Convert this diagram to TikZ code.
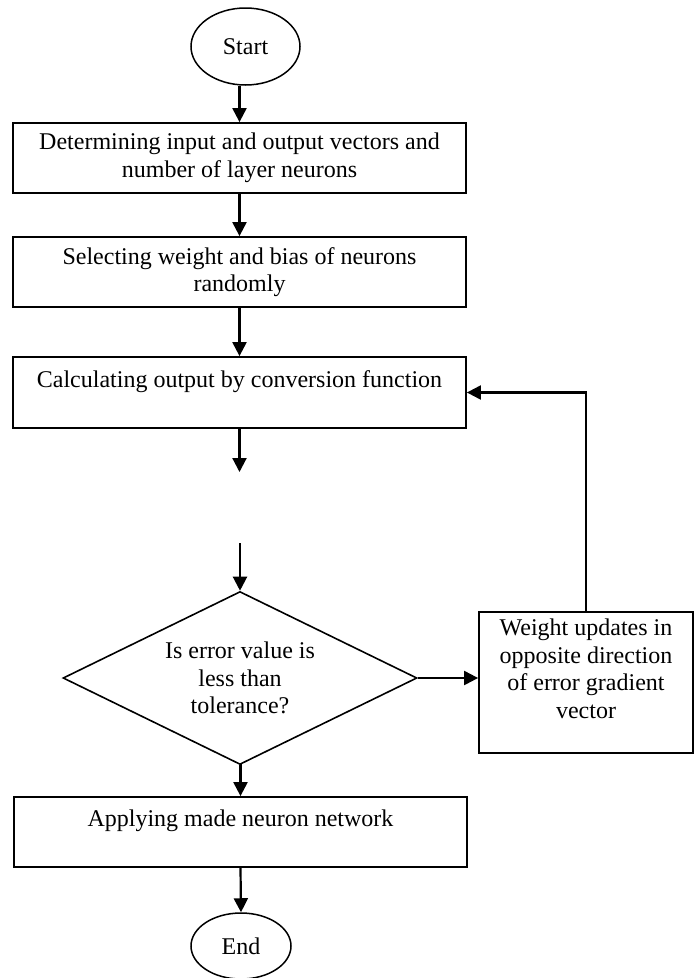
\documentclass[tikz,border=0pt]{standalone}
\usepackage{fontspec}
\setmainfont{Liberation Serif}
\usetikzlibrary{shapes.geometric,arrows.meta}
\begin{document}
\begin{tikzpicture}[x=1pt,y=1pt,
  every node/.style={font=\fontsize{24}{27.6}\selectfont, inner sep=0pt, align=center},
  procbox/.style={draw, line width=1.8pt, rectangle, minimum width=453pt},
  termin/.style={draw, line width=1.5pt, ellipse},
  decide/.style={draw, line width=1.6pt, diamond, aspect=2.05, minimum width=354pt, minimum height=173pt},
  flow/.style={line width=2.2pt, -{Triangle[length=14pt,width=14pt]}}
]
\useasboundingbox (0,0) rectangle (700,-978);
\node[termin, minimum width=109pt, minimum height=77pt] (start) at (245.5,-46.5) {Start};
\node[procbox, minimum height=70pt] (b1) at (239.5,-158) {Determining input and output vectors and\\number of layer neurons};
\node[procbox, minimum height=70pt] (b2) at (239.5,-272) {Selecting weight and bias of neurons\\randomly};
\node[procbox, minimum height=71pt] (b3) at (239.5,-392.5) {Calculating output by conversion function\\\mbox{}};
\node[decide] (dia) at (240,-678) {Is error value is\\less than\\tolerance?};
\node[procbox, minimum width=214pt, minimum height=141pt] (rb) at (586,-682.5) {Weight updates in\\opposite direction\\of error gradient\\vector\\\mbox{}};
\node[procbox, minimum height=70pt] (b4) at (240.5,-832) {Applying made neuron network\\\mbox{}};
\node[termin, minimum width=100pt, minimum height=66pt] (end) at (241,-946) {End};
\coordinate (c1) at (239.5,-472);
\coordinate (c2) at (240,-543);
\draw[flow] (b1.north |- start.south) -- (b1.north);
\draw[flow] (b1.south) -- (b2.north);
\draw[flow] (b2.south) -- (b3.north);
\draw[flow] (b3.south) -- (c1);
\draw[flow] (c2) -- (dia.north);
\draw[flow] (dia.east) -- (rb.west |- dia.east);
\draw[flow] (rb.north) |- (b3.east);
\draw[flow] (dia.south) -- (b4.south |- dia.south) -- (b4.north);
\draw[flow] (b4.south) -- (end.north);
\end{tikzpicture}
\end{document}
